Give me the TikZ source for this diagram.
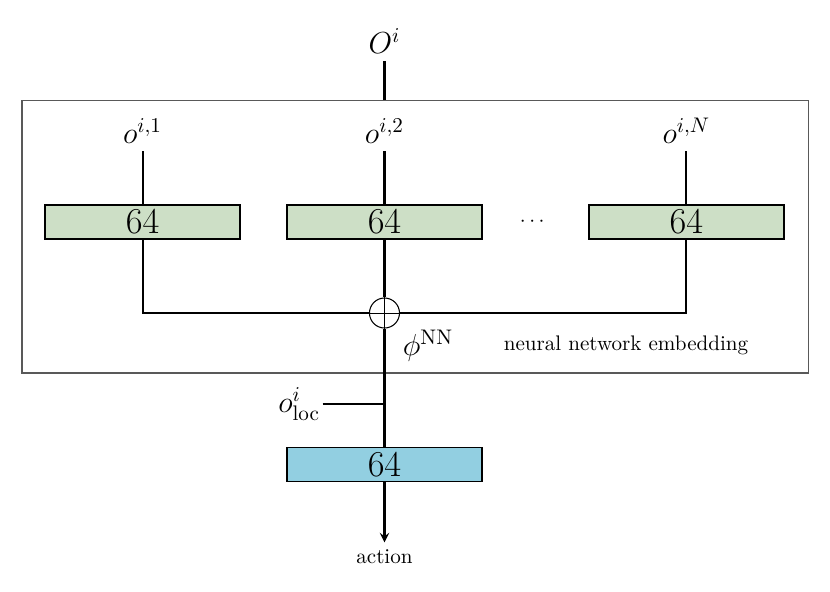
\documentclass[tikz,border=0pt]{standalone}
\usetikzlibrary{positioning,calc}
\definecolor{densegreen}{RGB}{205,223,198}
\definecolor{denseblue}{RGB}{146,207,225}
\tikzset{
	dense/.style={draw=black,line width=0.9pt,minimum height=0.567cm,minimum width=3.25cm,inner sep=0pt,font=\fontsize{16}{19}\selectfont},
	link/.style={line width=1pt},
	lbl/.style={font=\Large},
}
\begin{document}
\begin{tikzpicture}
		\useasboundingbox (0,0) rectangle (13.833,9.85);
		\node[draw=black!65,line width=0.5pt,minimum width=13.1cm,minimum height=4.534cm] (emb) at (6.917,5.9) {};
		
		\node[dense,fill=densegreen] (d2) at (6.408,6.15) {$64$};
		\node[dense,fill=densegreen,left=0.75cm of d2] (d1) {$64$};
		\node[dense,fill=densegreen,right=1.75cm of d2] (dN) {$64$};
		\node (dots) at ($(d2.east)!0.47!(dN.west)$) {$\cdots$};
		
		\node[lbl,above=0.883cm of d1] (o1) {$o^{i,1}$};
		\node[lbl,above=0.883cm of d2] (o2) {$o^{i,2}$};
		\node[lbl,above=0.883cm of dN] (oN) {$o^{i,N}$};
		
		\coordinate (top) at (d2 |- emb.north);
		\node[lbl,above=0.65cm of top] (Oi) {$O^i$};
		
		\node[circle,draw=black,line width=0.5pt,minimum size=0.5cm,inner sep=0pt] (sum) at (6.408,4.633) {};
		\draw[line width=0.4pt] (sum.north)--(sum.south) (sum.west)--(sum.east);
		
		\node[lbl] (phi) at (7.133,4.08) {$\phi^{\mathrm{NN}}$};
		\node (embtext) at (10.433,4.1) {neural network embedding};
		
		\node[dense,fill=denseblue] (out) at (6.408,2.108) {$64$};
		\coordinate (join) at (6.408,3.117);
		\node[lbl,left=1.033cm of join,inner sep=1pt] (oloc) {$o^i_{\mathrm{loc}}$};
		\node[below=1cm of out] (act) {action};
		
		\draw[link] (Oi.south)--(top);
		\draw[link] (o1.south)--(d1.north);
		\draw[link] (o2.south)--(d2.north);
		\draw[link] (oN.south)--(dN.north);
		\draw[link] (d1.south) |- (sum.west);
		\draw[link] (dN.south) |- (sum.east);
		\draw[link] (d2.south)--(sum.north);
		\draw[link] (sum.south)--(out.north);
		\draw[link] (oloc.east)--(join);
		\draw[link,-stealth] (out.south)--(act.north);
	\end{tikzpicture}
\end{document}
